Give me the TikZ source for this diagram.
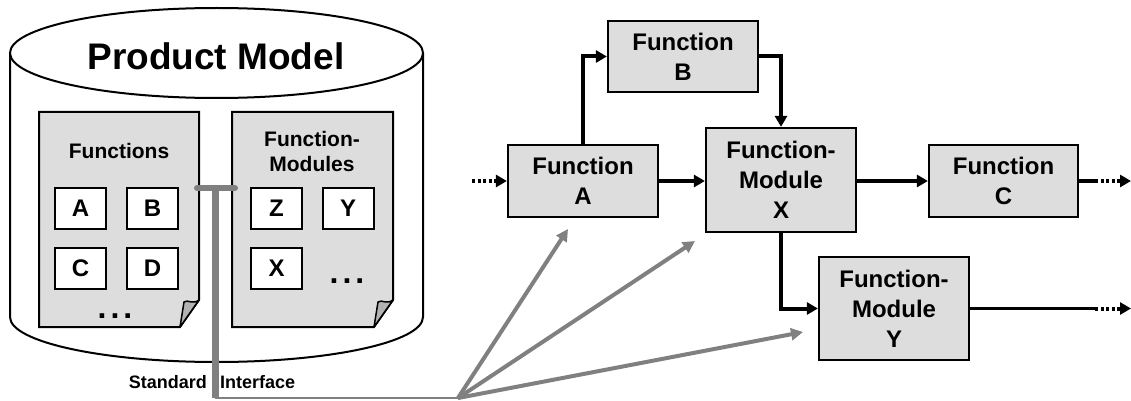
\documentclass[tikz,border=0pt]{standalone}
\usepackage{fontspec}
\setmainfont{Liberation Sans}
\usetikzlibrary{arrows.meta}
\definecolor{boxgray}{RGB}{221,221,221}
\definecolor{ifgray}{RGB}{128,128,128}
\definecolor{foldgray}{RGB}{178,178,178}
\begin{document}
\begin{tikzpicture}[x=1pt,y=-1pt,
  fbox/.style={draw, line width=2.2pt, fill=boxgray, minimum width=150pt, inner sep=0pt,
    align=center, font=\bfseries\fontsize{24}{30}\selectfont},
  lbox/.style={draw, line width=2pt, fill=white, minimum width=51pt, minimum height=41pt,
    inner sep=0pt, font=\bfseries\fontsize{24}{25}\selectfont},
  doctext/.style={inner sep=0pt, align=center, font=\bfseries\fontsize{21}{25}\selectfont},
  dotstext/.style={inner sep=0pt, font=\bfseries\fontsize{32}{32}\selectfont},
  tip/.style={-{Triangle[length=11pt,width=12pt]}},
  flow/.style={line width=4pt, tip},
  dots/.style={line width=4pt, dash pattern=on 3pt off 2.5pt},
  fan/.style={ifgray, line width=4pt, -{Triangle[length=12pt,width=12pt]}},
  docpage/.style={line width=2pt, fill=boxgray, line join=miter},
  fold/.style={line width=1.5pt, fill=foldgray, line join=round}
]
\useasboundingbox (0,0) rectangle (1131,401);

% ---- cylinder (Product Model) ----
\filldraw[line width=2pt, fill=white]
  (10,53) -- (10,317)
  .. controls (10,341.85) and (102.45,362) .. (216.5,362)
  .. controls (330.55,362) and (423,341.85) .. (423,317) -- (423,53);
\filldraw[line width=2pt, fill=white] (216.5,53) ellipse [x radius=206.5pt, y radius=45pt];
\node[anchor=base, inner sep=0pt, font=\bfseries\fontsize{37}{40}\selectfont] (pm) at (216,70) {Product Model};

% ---- document 1: Functions ----
\filldraw[docpage] (39,112) -- (199,112) -- (199,300) -- (180,327) -- (39,327) -- cycle;
\filldraw[fold] (180,327) -- (184,302) .. controls (188,299) and (192,305) .. (199,300) -- cycle;
\node[doctext, anchor=base] (fn) at (119,158) {Functions};
\node[lbox] (bA) at (80.5,208.5) {A};
\node[lbox] (bB) at (152.5,208.5) {B};
\node[lbox] (bC) at (80.5,268.5) {C};
\node[lbox] (bD) at (152.5,268.5) {D};
\node[dotstext, anchor=base] (fdots) at (115,318) {.\hspace{4pt}.\hspace{4pt}.};

% ---- document 2: Function-Modules ----
\filldraw[docpage] (232,112) -- (393,112) -- (393,300) -- (374,327) -- (232,327) -- cycle;
\filldraw[fold] (374,327) -- (378,302) .. controls (382,299) and (386,305) .. (393,300) -- cycle;
\node[doctext] (fm) at (312,151) {Function-\\Modules};
\node[lbox] (bZ) at (276.5,208.5) {Z};
\node[lbox] (bY) at (348,208.5) {Y};
\node[lbox] (bX) at (276.5,268.5) {X};
\node[dotstext, anchor=base] (mdots) at (347,283) {.\hspace{4pt}.\hspace{4pt}.};

% ---- flow boxes ----
\node[fbox, minimum height=72pt] (A) at (583,181) {Function\\A};
\node[fbox, minimum height=71pt] (B) at (683,56.5) {Function\\B};
\node[fbox, minimum height=104pt] (X) at (781,180) {Function-\\Module\\X};
\node[fbox, minimum width=149pt, minimum height=72pt] (C) at (1003.5,181) {Function\\C};
\node[fbox, minimum height=103pt] (Y) at (894,308.5) {Function-\\Module\\Y};

% ---- flow connectors ----
\coordinate (inA) at (472,181);
\draw[dots, tip] (inA) -- (A.west);
\draw[flow] (A.north) |- (B.west);
\draw[flow] (B.east) -| (X.north);
\draw[flow] (A.east) -- (X.west |- A.east);
\draw[flow] (X.east |- C.west) -- (C.west);
\draw[flow] (X.south) |- (Y.west);
\coordinate (c1) at (1095,181);
\coordinate (c2) at (1131,181);
\draw[line width=4pt] (C.east) -- (c1);
\draw[dots, tip] (c1) -- (c2);
\coordinate (y1) at (1095,308.5);
\coordinate (y2) at (1131,308.5);
\draw[line width=3.5pt] (Y.east) -- (y1);
\draw[dots, tip] (y1) -- (y2);

% ---- standard interface ----
\coordinate (ifL) at (197,188);
\coordinate (ifR) at (235,188);
\coordinate (ifM) at (215,188);
\coordinate (ifB) at (215,398);
\coordinate (fanO) at (458,398);
\draw[ifgray, line width=6pt, line cap=round] (ifL) -- (ifR);
\draw[ifgray, line width=7pt] (ifM) -- (ifB);
\draw[ifgray, line width=2.5pt] (ifB) -- (fanO);
\coordinate (tA) at (568,229);
\coordinate (tX) at (695,241);
\coordinate (tY) at (803,332);
\draw[fan] (fanO) -- (tA);
\draw[fan] (fanO) -- (tX);
\draw[fan] (fanO) -- (tY);
\node[anchor=base east, inner sep=0pt, font=\bfseries\fontsize{18}{20}\selectfont] (std) at (207,388) {Standard};
\node[anchor=base west, inner sep=0pt, font=\bfseries\fontsize{18}{20}\selectfont] (ifc) at (220,388) {Interface};
\end{tikzpicture}
\end{document}
